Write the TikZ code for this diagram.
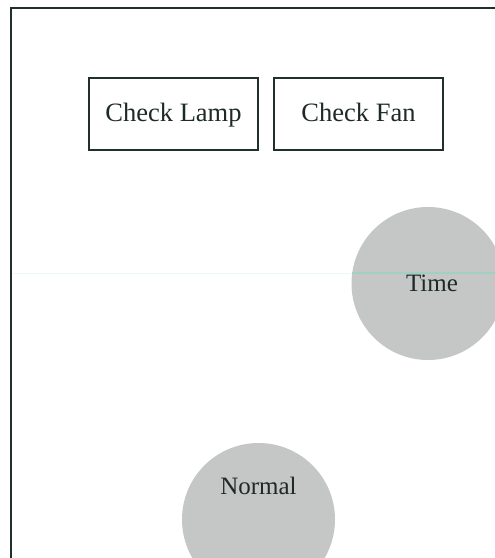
\documentclass[tikz,border=0pt]{standalone}
\usepackage{fontspec}
\setmainfont{Liberation Serif}
\definecolor{inkc}{RGB}{30,42,40}
\definecolor{framec}{RGB}{32,48,45}
\definecolor{discfill}{RGB}{197,199,198}
\definecolor{scanline}{RGB}{140,215,195}
\tikzset{
  x=1pt, y=1pt,
  checkbox/.style={draw=framec, line width=1.4pt, fill=white, minimum width=169pt, minimum height=72pt, inner sep=0pt, font=\fontsize{26.5}{30}\selectfont, text=inkc, text height=18pt, text depth=4pt},
  disc/.style={circle, fill=discfill, draw=none, minimum size=153pt, inner sep=0pt},
  disclabel/.style={font=\fontsize{25}{30}\selectfont, text=inkc, inner sep=0pt}
}
\begin{document}
\begin{tikzpicture}
\useasboundingbox (0,0) rectangle (495,-558);
\clip (0,0) rectangle (495,-558);
\fill[white] (0,0) rectangle (495,-558);
% outer frame (only left and top edges visible)
\coordinate (fbl) at (11,-560);
\coordinate (ftl) at (11,-8);
\coordinate (ftr) at (497,-8);
\draw[framec, line width=2.2pt] (fbl) -- (ftl) -- (ftr);
% boxes
\node[checkbox] (lamp) at (173.5,-114) {Check Lamp};
\node[checkbox] (fan) at (358.5,-114) {Check Fan};
% discs
\node[disc] (timedisc) at (428,-283.5) {};
\node[disc] (normaldisc) at (258.5,-519.5) {};
% faint scan line
\coordinate (sl) at (12,-273);
\coordinate (sr) at (495,-273);
\draw[scanline, line width=0.8pt, opacity=0.15] (sl) -- (sr);
\begin{scope}
\clip (428,-283.5) circle (76.5);
\draw[scanline, line width=1.1pt, opacity=0.6] (sl) -- (sr);
\end{scope}
\node[disclabel] (timelabel) at (432,-283.5) {Time};
\node[disclabel] (normallabel) at (258.5,-486) {Normal};
\end{tikzpicture}
\end{document}
